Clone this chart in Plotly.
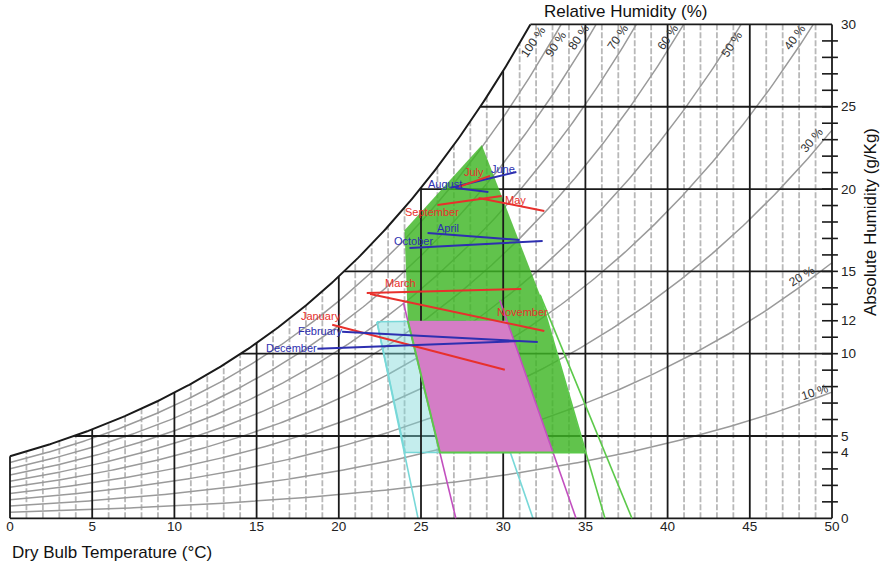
import numpy as np
import plotly.graph_objects as go

# ---------------------------------------------------------------- data
P_ATM = 101.325  # kPa

rh_levels = [0.1, 0.2, 0.3, 0.4, 0.5, 0.6, 0.7, 0.8, 0.9]
rh_label_text = ["10 %", "20 %", "30 %", "40 %", "50 %", "60 %", "70 %", "80 %", "90 %", "100 %"]

x_ticks = [0, 5, 10, 15, 20, 25, 30, 35, 40, 45, 50]
y_ticks = [0, 4, 5, 10, 12, 15, 20, 25, 30]

months = ["January", "February", "March", "April", "May", "June",
          "July", "August", "September", "October", "November", "December"]
# each month: (dry bulb, absolute humidity) at the two ends of its line
month_t1 = [19.6, 20.2, 21.7, 25.4, 28.5, 26.8, 27.3, 27.1, 26.0, 24.3, 21.9, 18.7]
month_w1 = [11.76, 11.33, 13.69, 17.33, 19.46, 20.08, 20.13, 20.07, 19.03, 16.42, 13.63, 10.30]
month_t2 = [30.1, 32.1, 31.1, 31.0, 32.5, 30.8, 29.2, 29.1, 29.9, 32.4, 32.5, 31.0]
month_w2 = [9.02, 10.71, 13.93, 16.91, 18.67, 21.04, 20.80, 19.82, 19.58, 16.85, 11.38, 10.77]

# comfort / strategy zones (dry bulb °C, g/kg)
green_t = [28.7, 32.24, 35.0, 26.15, 24.2, 24.0]
green_w = [22.68, 13.57, 4.0, 4.0, 12.0, 17.5]
pink_t = [24.2, 30.23, 33.03, 26.15]
pink_w = [12.0, 12.0, 4.0, 4.0]
cyan_t = [22.32, 27.68, 30.41, 24.03]
cyan_w = [11.94, 12.0, 4.0, 4.0]

# boundary lines of the zones, carried down to the dry-bulb axis
pink_edge_t = [[23.93, 27.12], [29.79, 34.43]]
pink_edge_w = [[13.1, 0.0], [13.26, 0.0]]
cyan_edge_t = [[22.32, 24.82], [27.68, 31.81]]
cyan_edge_w = [[11.94, 0.0], [12.0, 0.0]]
green_edge_t = [[32.24, 37.83], [32.24, 36.19]]
green_edge_w = [[13.57, 0.0], [13.57, 0.0]]

# ---------------------------------------------------------------- psychrometrics
def p_sat(t):
    return 0.61078 * np.exp(17.27 * t / (t + 237.3))


def ratio(t, rh):
    pv = rh * p_sat(t)
    return 622.0 * pv / (P_ATM - pv)


def t_from_ratio(w, rh=1.0):
    pv = w * P_ATM / (622.0 + w) / rh
    a = np.log(pv / 0.61078)
    return 237.3 * a / (17.27 - a)


W_TOP = 30.0
T_MAX = 50.0
t_sat_top = float(t_from_ratio(W_TOP))


def top_of(t):
    return min(float(ratio(t, 1.0)), W_TOP)


def segs(pairs):
    xs, ys = [], []
    for (x0, y0), (x1, y1) in pairs:
        xs += [x0, x1, None]
        ys += [y0, y1, None]
    return xs, ys


FONT = "Liberation Sans, Arial, Helvetica, sans-serif"
BLACK = "#1a1a1a"
RED = "#e8302c"
BLUE = "#2d2fb0"

fig = go.Figure()

# light dashed isotherms every degree
xs, ys = segs([((t, 0), (t, top_of(t))) for t in range(1, 50) if t % 5])
fig.add_trace(go.Scatter(x=xs, y=ys, mode="lines", hoverinfo="skip",
                         line=dict(color="#b8b8b8", width=1.8, dash="6px,2px")))

# relative humidity curves
for rh in rh_levels:
    t_end = min(T_MAX, float(t_from_ratio(W_TOP, rh)))
    tt = np.linspace(0, t_end, 240)
    fig.add_trace(go.Scatter(x=tt, y=ratio(tt, rh), mode="lines", hoverinfo="skip",
                             line=dict(color="#9a9a9a", width=1.5)))

# heavy horizontals every 5 g/kg
xs, ys = segs([((float(t_from_ratio(w)), w), (T_MAX, w)) for w in range(5, 30, 5)])
fig.add_trace(go.Scatter(x=xs, y=ys, mode="lines", hoverinfo="skip",
                         line=dict(color=BLACK, width=1.8)))

# zones
fig.add_trace(go.Scatter(x=cyan_t + [cyan_t[0]], y=cyan_w + [cyan_w[0]], mode="lines",
                         fill="toself", fillcolor="rgba(125,215,215,0.45)",
                         line=dict(color="#78d8d8", width=1.6), hoverinfo="skip"))
for et, ew in zip(cyan_edge_t, cyan_edge_w):
    fig.add_trace(go.Scatter(x=et, y=ew, mode="lines", hoverinfo="skip",
                             line=dict(color="#78d8d8", width=1.6)))
fig.add_trace(go.Scatter(x=green_t + [green_t[0]], y=green_w + [green_w[0]], mode="lines",
                         fill="toself", fillcolor="rgba(62,182,36,0.82)",
                         line=dict(width=0), hoverinfo="skip"))

# heavy isotherms every 5 °C and the chart frame
xs, ys = segs([((t, 0), (t, top_of(t))) for t in range(5, 50, 5)])
fig.add_trace(go.Scatter(x=xs, y=ys, mode="lines", hoverinfo="skip",
                         line=dict(color=BLACK, width=1.8)))
frame = [((0, 0), (0, float(ratio(0, 1.0)))), ((0, 0), (T_MAX, 0)),
         ((T_MAX, 0), (T_MAX, W_TOP)), ((t_sat_top, W_TOP), (T_MAX, W_TOP))]
xs, ys = segs(frame)
fig.add_trace(go.Scatter(x=xs, y=ys, mode="lines", hoverinfo="skip",
                         line=dict(color=BLACK, width=1.8)))
tt = np.linspace(0, t_sat_top, 300)
fig.add_trace(go.Scatter(x=tt, y=ratio(tt, 1.0), mode="lines", hoverinfo="skip",
                         line=dict(color=BLACK, width=2)))
# minor ticks on the humidity scale
xs, ys = segs([((49.39, w), (50.36, w)) for w in range(1, 30)])
fig.add_trace(go.Scatter(x=xs, y=ys, mode="lines", hoverinfo="skip", cliponaxis=False,
                         line=dict(color=BLACK, width=1.6)))

fig.add_trace(go.Scatter(x=pink_t + [pink_t[0]], y=pink_w + [pink_w[0]], mode="lines",
                         fill="toself", fillcolor="#d47dc6",
                         line=dict(width=0), hoverinfo="skip"))
for et, ew in zip(pink_edge_t, pink_edge_w):
    fig.add_trace(go.Scatter(x=et, y=ew, mode="lines", hoverinfo="skip",
                             line=dict(color="#c24fbf", width=1.6)))
fig.add_trace(go.Scatter(x=[pink_t[0], pink_t[3], green_t[2]],
                         y=[pink_w[0], pink_w[3], green_w[2]], mode="lines",
                         hoverinfo="skip", line=dict(color="#5cc94a", width=2)))
for et, ew in zip(green_edge_t, green_edge_w):
    fig.add_trace(go.Scatter(x=et, y=ew, mode="lines", hoverinfo="skip",
                             line=dict(color="#5cc94a", width=1.6)))

# monthly lines
for i, m in enumerate(months):
    col = RED if i % 2 == 0 else BLUE
    fig.add_trace(go.Scatter(x=[month_t1[i], month_t2[i]], y=[month_w1[i], month_w2[i]],
                             mode="lines", name=m, hoverinfo="name",
                             line=dict(color=col, width=2)))

annotations = []
month_label_pos = {
    "January": (18.92, 12.29), "February": (18.86, 11.38), "March": (23.78, 14.30),
    "April": (26.64, 17.64), "May": (30.72, 19.34), "June": (29.99, 21.22),
    "July": (28.22, 21.04), "August": (26.46, 20.31), "September": (25.67, 18.61),
    "October": (24.57, 16.85), "November": (31.2, 12.54), "December": (17.15, 10.36),
}
for i, m in enumerate(months):
    x, y = month_label_pos[m]
    annotations.append(dict(x=x, y=y, text=m, showarrow=False, xanchor="center",
                            yanchor="middle",
                            font=dict(family=FONT, size=11,
                                      color=RED if i % 2 == 0 else BLUE)))

rh_label_pos = [(48.97, 7.68, -18), (48.18, 14.72, -32), (48.78, 22.98, -50),
                (47.75, 29.24, -54), (43.92, 28.81, -56), (40.02, 29.24, -56),
                (36.98, 29.24, -56), (34.61, 29.24, -56), (33.21, 28.81, -56),
                (31.81, 28.94, -56)]
for txt, (x, y, ang) in zip(rh_label_text, rh_label_pos):
    annotations.append(dict(x=x, y=y, text=txt, showarrow=False, textangle=ang,
                            xanchor="center", yanchor="middle",
                            font=dict(family=FONT, size=12, color="#333333")))

# axis titles, placed on the page
annotations += [
    dict(xref="paper", yref="paper", x=0.7443, y=1.016, text="Relative Humidity (%)",
         showarrow=False, xanchor="center", yanchor="middle",
         font=dict(family=FONT, size=17, color="#111")),
    dict(xref="paper", yref="paper", x=0.006, y=-0.064, text="Dry Bulb Temperature (°C)",
         showarrow=False, xanchor="left", yanchor="middle",
         font=dict(family=FONT, size=17, color="#111")),
    dict(xref="paper", yref="paper", x=1.0384, y=0.596, text="Absolute Humidity (g/Kg)",
         showarrow=False, textangle=-90, xanchor="center", yanchor="middle",
         font=dict(family=FONT, size=17, color="#111")),
]

fig.update_layout(
    width=881, height=566,
    margin=dict(l=5, r=43, t=20, b=46),
    paper_bgcolor="white", plot_bgcolor="white",
    showlegend=False,
    annotations=annotations,
    xaxis=dict(range=[-0.304, 50.365], tickvals=x_ticks, showgrid=False, zeroline=False,
               showline=False, ticks="", ticklabelstandoff=-4,
               tickfont=dict(family=FONT, size=13.5, color="#222")),
    yaxis=dict(range=[-0.103, 30.27], tickvals=y_ticks, side="right", showgrid=False,
               zeroline=False, showline=False, ticks="", ticklabelstandoff=2,
               tickfont=dict(family=FONT, size=13.5, color="#222")),
)

fig.write_html("out.html")
